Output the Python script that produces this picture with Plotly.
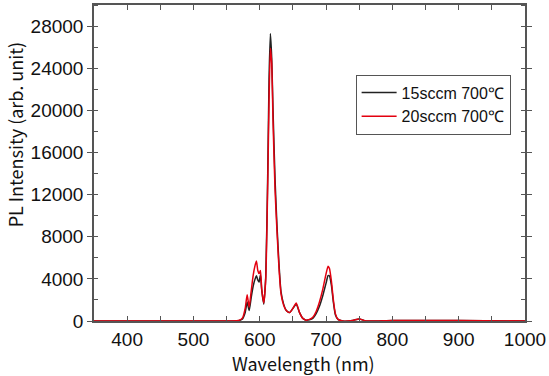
import plotly.graph_objects as go

wavelength = [350, 400, 500, 555, 568, 574, 578, 581, 584, 587, 590, 593, 595, 597, 599, 601, 603,
              606, 609, 612, 614, 616, 618, 620, 623, 626, 629, 632, 636, 640, 645, 650, 655,
              660, 665, 670, 675, 680, 685, 690, 695, 700, 703, 705, 708, 711, 714, 718, 725,
              740, 750, 760, 800, 900, 1000]

intensity_15sccm = [0, 0, 0, 0, 30, 200, 800, 1800, 1000, 2200, 3300, 4000, 4300, 3900, 3700, 4400, 2900,
                    1600, 4200, 14000, 23000, 27300, 25000, 20000, 13500, 9000, 5400, 2800, 1600, 1000, 800, 1200, 1600,
                    800, 250, 80, 120, 250, 700, 1400, 2400, 3600, 4300, 4300, 3400, 1800, 600, 150, 0,
                    50, 200, 0, 50, 50, 0]

intensity_20sccm = [0, 0, 0, 0, 40, 300, 1200, 2500, 1300, 2800, 4300, 5300, 5700, 4800, 4500, 4800, 3000,
                    1700, 4000, 13000, 21000, 25900, 24500, 19000, 12500, 8500, 5000, 2600, 1500, 1000, 800, 1200, 1700,
                    800, 250, 80, 150, 350, 900, 1800, 3000, 4500, 5200, 5000, 3800, 2000, 700, 150, 0,
                    50, 200, 0, 50, 50, 0]

series_names = ["15sccm 700℃", "20sccm 700℃"]

fig = go.Figure()
fig.add_trace(go.Scatter(x=wavelength, y=intensity_15sccm, mode="lines", name=series_names[0],
                         line=dict(color="#222222", width=1.5, shape="spline", smoothing=0.5)))
fig.add_trace(go.Scatter(x=wavelength, y=intensity_20sccm, mode="lines", name=series_names[1],
                         line=dict(color="#e3000f", width=1.5, shape="spline", smoothing=0.5)))

tickfont = dict(family="Liberation Sans, Arial", size=19, color="#111111")
titlefont = dict(family="Noto Sans CJK JP", size=18, color="#111111")
axis_color = "#555555"

fig.update_layout(
    width=549, height=376,
    margin=dict(l=94, r=22, t=3, b=55),
    paper_bgcolor="white", plot_bgcolor="white",
    showlegend=True,
    legend=dict(x=0.607, y=0.78, xanchor="left", yanchor="top",
                bgcolor="white", bordercolor="#555555", borderwidth=1,
                font=dict(family="Liberation Sans, Arial", size=16, color="#111111"),
                tracegroupgap=0, itemwidth=35),
    xaxis=dict(range=[350, 1000], dtick=100, tick0=400, tickformat="d", showgrid=False, zeroline=False,
               showline=True, linecolor=axis_color, linewidth=1.5, mirror="ticks",
               ticks="inside", ticklen=5, tickcolor=axis_color, tickwidth=1.2,
               minor=dict(dtick=50, ticks="inside", ticklen=5, tickcolor=axis_color),
               tickfont=tickfont),
    yaxis=dict(range=[0, 30000], dtick=4000, tickformat="d", showgrid=False, zeroline=False,
               showline=True, linecolor=axis_color, linewidth=1.5, mirror="ticks",
               ticks="outside", ticklen=5, tickcolor=axis_color, tickwidth=1.2,
               minor=dict(dtick=2000, ticks="inside", ticklen=4, tickcolor=axis_color),
               tickfont=tickfont),
    annotations=[
        dict(text="PL Intensity (arb. unit)", textangle=-90, xref="paper", yref="paper",
             x=-0.2, xshift=7, y=0.59, xanchor="center", yanchor="middle", showarrow=False,
             font=titlefont),
        dict(text="Wavelength (nm)", xref="paper", yref="paper",
             x=0.487, y=-0.132, xanchor="center", yanchor="middle", showarrow=False,
             font=titlefont),
    ],
)

fig.write_html("out.html")
